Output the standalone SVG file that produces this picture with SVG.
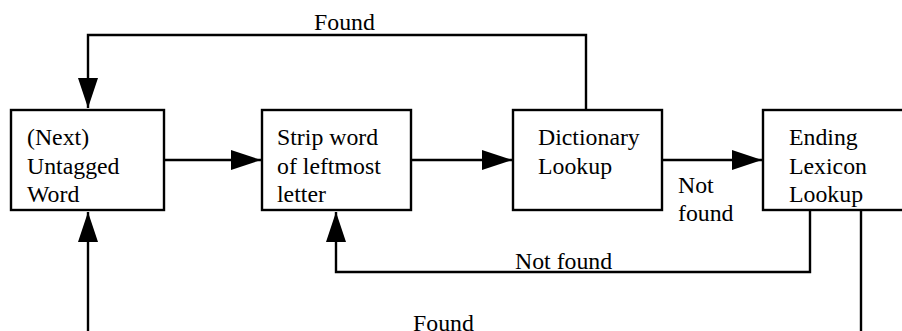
<svg xmlns="http://www.w3.org/2000/svg" width="902" height="331" viewBox="0 0 902 331">
  <style>
    .box { fill: #fff; stroke: #000; stroke-width: 2.4; }
    .wire { fill: none; stroke: #000; stroke-width: 2.4; }
    text { font-family: 'Liberation Serif', 'Times New Roman', serif; font-size: 23.8px; fill: #000; }
  </style>
  <defs>
    <marker id="arrow" viewBox="0 0 30 20" refX="30" refY="10" markerWidth="30" markerHeight="20" markerUnits="userSpaceOnUse" orient="auto">
      <path d="M0,0 L30,10 L0,20 Z" fill="#000"/>
    </marker>
  </defs>
  <rect width="902" height="331" fill="#fff"/>

  <g id="connectors">
    <!-- Dictionary found: back to the next word -->
    <path class="wire" d="M586,110 V35 H88 V108" marker-end="url(#arrow)"/>
    <!-- main flow -->
    <path class="wire" d="M164,160 H261" marker-end="url(#arrow)"/>
    <path class="wire" d="M411,160 H512" marker-end="url(#arrow)"/>
    <path class="wire" d="M662,160 H762" marker-end="url(#arrow)"/>
    <!-- ending lookup not found: strip another letter -->
    <path class="wire" d="M810,210 V272 H336 V212" marker-end="url(#arrow)"/>
    <!-- ending lookup found: back to the next word -->
    <path class="wire" d="M861,210 V331"/>
    <path class="wire" d="M88,331 V212" marker-end="url(#arrow)"/>
  </g>

  <g id="next-word">
    <rect class="box" x="11" y="110" width="153" height="100"/>
    <text x="27" y="145">(Next)</text>
    <text x="27" y="173.5">Untagged</text>
    <text x="27" y="202">Word</text>
  </g>

  <g id="strip-word">
    <rect class="box" x="262" y="110" width="149" height="100"/>
    <text x="277" y="145">Strip word</text>
    <text x="277" y="173.5">of leftmost</text>
    <text x="277" y="202">letter</text>
  </g>

  <g id="dictionary-lookup">
    <rect class="box" x="513" y="110" width="149" height="100"/>
    <text x="538" y="145">Dictionary</text>
    <text x="538" y="173.5">Lookup</text>
  </g>

  <g id="ending-lookup">
    <rect class="box" x="763" y="110" width="150" height="100"/>
    <text x="789" y="145">Ending</text>
    <text x="789" y="173.5">Lexicon</text>
    <text x="789" y="202">Lookup</text>
  </g>

  <g id="labels">
    <text x="314" y="29.5">Found</text>
    <text x="678" y="193">Not</text>
    <text x="678" y="221">found</text>
    <text x="515" y="269">Not found</text>
    <text x="413" y="331">Found</text>
  </g>
</svg>
